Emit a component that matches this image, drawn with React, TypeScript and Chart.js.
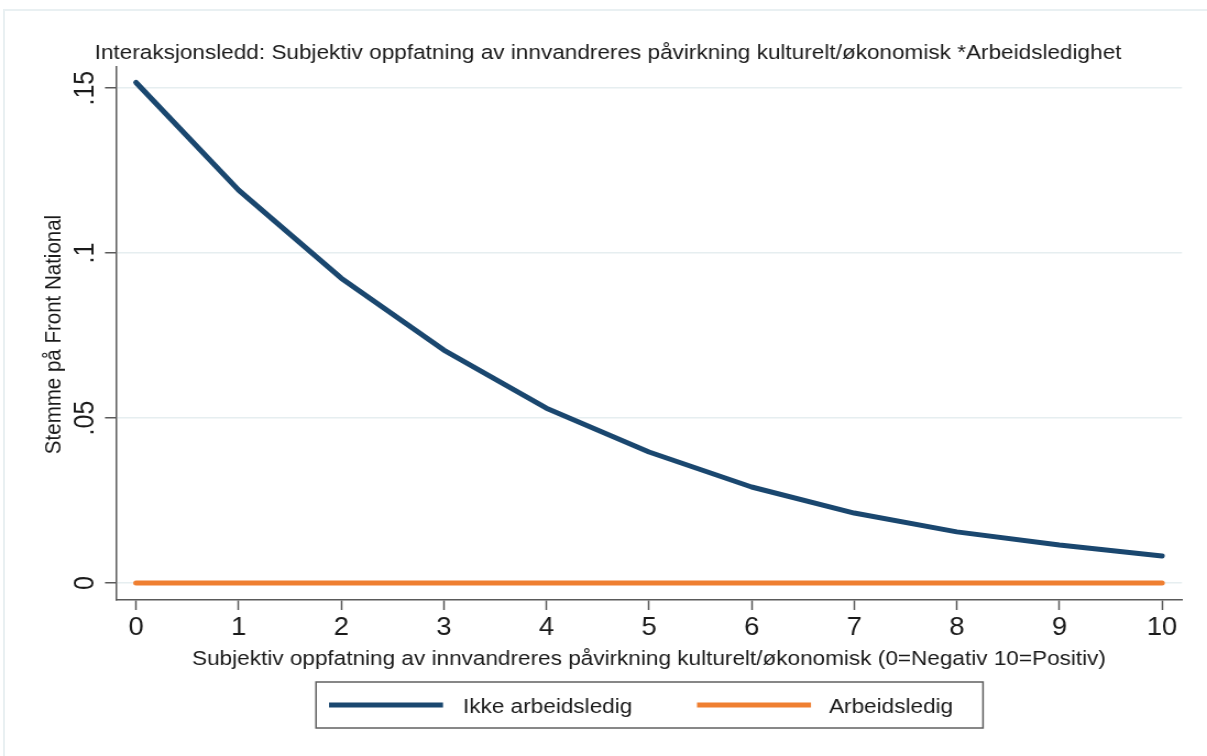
import React, { useEffect, useRef } from 'react';
import { Chart, registerables } from 'chart.js';

Chart.register(...registerables);

// ---------- data ----------
const xValues = [0, 1, 2, 3, 4, 5, 6, 7, 8, 9, 10];
const ikkeArbeidsledig = [0.1517, 0.1191, 0.0924, 0.0706, 0.053, 0.0397, 0.0291, 0.0212, 0.0155, 0.0115, 0.0082];
const arbeidsledig = [0, 0, 0, 0, 0, 0, 0, 0, 0, 0, 0];
const seriesLabels = ['Ikke arbeidsledig', 'Arbeidsledig'];
const xTicks = [0, 1, 2, 3, 4, 5, 6, 7, 8, 9, 10];
const yTicks = [0, 0.05, 0.1, 0.15];
const yTickLabels = ['0', '.05', '.1', '.15'];
const titleText =
  'Interaksjonsledd: Subjektiv oppfatning av innvandreres påvirkning kulturelt/økonomisk *Arbeidsledighet';
const xTitleText =
  'Subjektiv oppfatning av innvandreres påvirkning kulturelt/økonomisk (0=Negativ 10=Positiv)';
const yTitleText = 'Stemme på Front National';

// ---------- style ----------
const W = 1207;
const H = 756;
const IW = 1097; // internal canvas width (stretched horizontally by CSS)
const SX = W / IW;
const FONT = "'Liberation Sans', Arial, Helvetica, sans-serif";
const BLUE = '#1a476f';
const ORANGE = '#ef7f31';
const GRID = '#e6eef0';
const AXIS = '#5a5a5a';
const TEXT = '#1a1a1a';
const colors = [BLUE, ORANGE];

const decor = {
  id: 'decor',
  afterDraw(chart: any) {
    const ctx = chart.ctx as CanvasRenderingContext2D;
    const area = chart.chartArea;
    ctx.save();
    ctx.fillStyle = TEXT;

    // title
    ctx.font = `20.5px ${FONT}`;
    ctx.textAlign = 'center';
    ctx.textBaseline = 'alphabetic';
    ctx.fillText(titleText, 608 / SX, 59);

    // x title
    ctx.fillText(xTitleText, (area.left + area.right) / 2, 665);

    // y title (rotated)
    ctx.save();
    ctx.translate(60 / SX, (area.top + area.bottom) / 2 + 1);
    ctx.rotate(-Math.PI / 2);
    ctx.font = `20.5px ${FONT}`;
    ctx.textAlign = 'center';
    ctx.fillText(yTitleText, 0, 0);
    ctx.restore();

    // y tick labels (rotated)
    const ys = chart.scales.y;
    ctx.font = `25px ${FONT}`;
    ys.ticks.forEach((t: any) => {
      const py = ys.getPixelForValue(t.value);
      ctx.save();
      ctx.translate(94 / SX, py);
      ctx.rotate(-Math.PI / 2);
      ctx.textAlign = 'center';
      ctx.textBaseline = 'alphabetic';
      ctx.fillText(String(t.label), 0, 0);
      ctx.restore();
    });

    // legend box
    const bx0 = 316 / SX;
    const bx1 = 983 / SX;
    const by0 = 682;
    const by1 = 728;
    ctx.fillStyle = '#ffffff';
    ctx.fillRect(bx0, by0, bx1 - bx0, by1 - by0);
    ctx.strokeStyle = '#606060';
    ctx.lineWidth = 1.5;
    ctx.strokeRect(bx0, by0, bx1 - bx0, by1 - by0);

    const samples = [
      { x0: 329 / SX, x1: 443 / SX, tx: 463 / SX },
      { x0: 697 / SX, x1: 811 / SX, tx: 829 / SX },
    ];
    chart.data.datasets.forEach((ds: any, i: number) => {
      const s = samples[i];
      ctx.strokeStyle = ds.borderColor;
      ctx.lineWidth = 5;
      ctx.lineCap = 'butt';
      ctx.beginPath();
      ctx.moveTo(s.x0, 705);
      ctx.lineTo(s.x1, 705);
      ctx.stroke();
      ctx.fillStyle = TEXT;
      ctx.font = `20.5px ${FONT}`;
      ctx.textAlign = 'left';
      ctx.textBaseline = 'alphabetic';
      ctx.fillText(ds.label, s.tx, 713);
    });

    ctx.restore();
  },
};

export default function App() {
  const canvasRef = useRef<HTMLCanvasElement | null>(null);

  useEffect(() => {
    const canvas = canvasRef.current;
    if (!canvas) return;
    const seriesValues = [ikkeArbeidsledig, arbeidsledig];
    const chart = new Chart(canvas, {
      type: 'line',
      data: {
        datasets: seriesLabels.map((label, si) => ({
          label,
          data: xValues.map((x, i) => ({ x, y: seriesValues[si][i] })),
          borderColor: colors[si],
          backgroundColor: colors[si],
          borderWidth: 5,
          pointRadius: 0,
          tension: 0,
          fill: false,
          borderCapStyle: 'round' as const,
          borderJoinStyle: 'round' as const,
        })),
      },
      options: {
        animation: false,
        responsive: false,
        devicePixelRatio: 1,
        layout: { padding: { top: 67, right: IW - 1182 / SX, bottom: 0, left: 0 } },
        plugins: {
          legend: { display: false },
          title: { display: false },
          tooltip: { enabled: false },
        },
        scales: {
          x: {
            type: 'linear',
            min: -0.195,
            max: 10.195,
            afterBuildTicks: (s: any) => {
              s.ticks = xTicks.map((v) => ({ value: v }));
            },
            afterFit: (s: any) => {
              s.height = H - 600;
            },
            grid: {
              drawOnChartArea: false,
              drawTicks: true,
              tickLength: 10,
              tickColor: AXIS,
              tickWidth: 1.5,
            },
            border: { display: true, color: AXIS, width: 1.5 },
            ticks: {
              font: { family: FONT, size: 25 },
              color: TEXT,
              padding: 3,
              maxRotation: 0,
              autoSkip: false,
              callback: (v: any) => String(v),
            },
          },
          y: {
            type: 'linear',
            min: -0.00515,
            max: 0.1564,
            afterBuildTicks: (s: any) => {
              s.ticks = yTicks.map((v) => ({ value: v }));
            },
            afterFit: (s: any) => {
              s.width = 116 / SX;
            },
            grid: {
              color: GRID,
              lineWidth: 1.5,
              drawTicks: true,
              tickLength: 10,
              tickColor: AXIS,
              tickWidth: 1.5,
            },
            border: { display: true, color: AXIS, width: 1.5 },
            ticks: {
              display: false,
              callback: (_v: any, i: number) => yTickLabels[i],
            },
          },
        },
      },
      plugins: [decor],
    } as any);
    return () => chart.destroy();
  }, []);

  return (
    <div
      style={{
        position: 'absolute',
        left: 0,
        top: 0,
        width: W,
        height: H,
        overflow: 'hidden',
        background: '#ffffff',
      }}
    >
      <div
        style={{
          position: 'absolute',
          left: 3,
          top: 9,
          width: W - 3,
          height: H - 9,
          boxSizing: 'border-box',
          borderLeft: '2px solid #e9f0f2',
          borderTop: '2px solid #e9f0f2',
        }}
      />
      <canvas
        ref={canvasRef}
        width={IW}
        height={H}
        style={{ position: 'absolute', left: 0, top: 0, width: W + 'px', height: H + 'px', display: 'block' }}
      />
    </div>
  );
}
